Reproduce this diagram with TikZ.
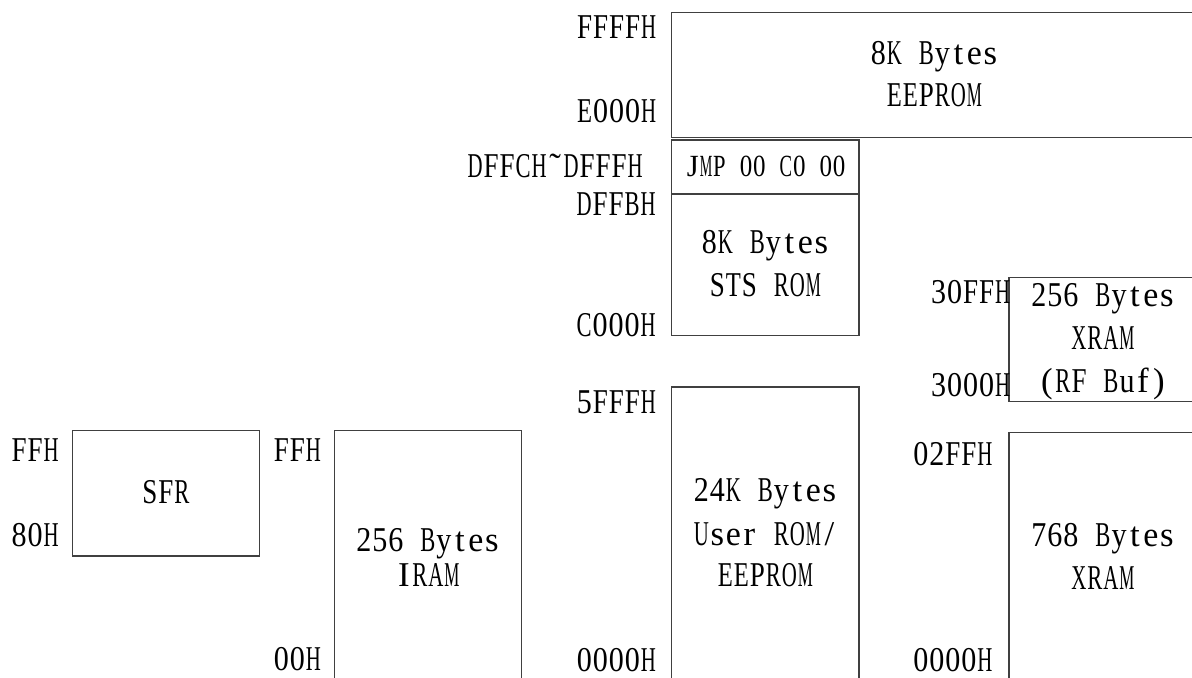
\documentclass[tikz,border=0pt]{standalone}
\usepackage{fontspec}
\setmainfont{Liberation Serif}
\ExplSyntaxOn
\box_new:N \l_mymt_box
\NewDocumentCommand\mt{O{8pt}m}{
  \str_map_inline:nn {#2} {
    \hbox_set:Nn \l_mymt_box {##1}
    \dim_compare:nNnT { \box_wd:N \l_mymt_box } > { #1 * 94 / 100 }
      {
        \box_scale:Nnn \l_mymt_box
          { \fp_eval:n { 0.94 * \dim_to_fp:n {#1} / \dim_to_fp:n { \box_wd:N \l_mymt_box } } } {1}
      }
    \hbox_to_wd:nn {#1} { \hfil \box_use_drop:N \l_mymt_box \hfil }
  }
}
\ExplSyntaxOff
\tikzset{
  membox/.style={draw=black!75, line width=0.75pt},
  lbl/.style={inner sep=0pt, anchor=base east, font=\fontsize{17.4}{20}\selectfont},
  txt/.style={inner sep=0pt, anchor=base, font=\fontsize{17.4}{20}\selectfont},
  smalltxt/.style={inner sep=0pt, anchor=base, font=\fontsize{15.4}{18}\selectfont},
}
\begin{document}
\begin{tikzpicture}[x=0.5pt,y=-0.5pt]
\useasboundingbox (0,0) rectangle (1192,678);
\clip (0,0) rectangle (1192,678);
% boxes
\draw[membox] (671.5,12.7) rectangle (1197.5,137.5);
\draw[membox] (671.5,140) rectangle (859,194);
\draw[membox] (671.5,194) rectangle (859,335.5);
\draw[membox] (1009,277.7) rectangle (1197,401.5);
\draw[membox] (1009,432.7) rectangle (1197,700);
\draw[membox] (671.5,387) rectangle (859,700);
\draw[membox] (72.3,430.7) rectangle (259.3,556);
\draw[membox] (334.3,430.7) rectangle (521.7,700);
% address labels
\node[lbl] (aFFFF) at (657,39) {\mt{FFFFH}};
\node[lbl] (aE000) at (657,123) {\mt{E000H}};
\node[lbl] (aDFFC) at (643.5,178) {\mt{DFFCH˜DFFFH}};
\node[lbl] (aDFFB) at (656.5,216) {\mt{DFFBH}};
\node[lbl] (aC000) at (656.5,336.7) {\mt{C000H}};
\node[lbl] (a5FFF) at (656.8,413) {\mt{5FFFH}};
\node[lbl] (a0000a) at (656.8,671) {\mt{0000H}};
\node[lbl] (aSFFF) at (59.5,461.7) {\mt{FFH}};
\node[lbl] (aS80) at (59.5,546) {\mt{80H}};
\node[lbl] (aIFF) at (321.7,461.7) {\mt{FFH}};
\node[lbl] (aI00) at (321.7,670) {\mt{00H}};
\node[lbl] (a02FF) at (993.3,465) {\mt{02FFH}};
\node[lbl] (a0000b) at (993.3,671) {\mt{0000H}};
\node[lbl] (a30FF) at (1011,303.3) {\mt{30FFH}};
\node[lbl] (a3000) at (1011,396.7) {\mt{3000H}};
% box texts
\node[txt] (eep1) at (934.5,65) {\mt{8K Bytes}};
\node[txt] (eep2) at (934.5,106.7) {\mt{EEPROM}};
\node[smalltxt] (jmp) at (766,177) {\mt[6.65pt]{JMP 00 C0 00}};
\node[txt] (sts1) at (765.5,254) {\mt{8K Bytes}};
\node[txt] (sts2) at (765.5,296.7) {\mt{STS ROM}};
\node[txt] (rf1) at (1103,306.7) {\mt{256 Bytes}};
\node[txt] (rf2) at (1103,349.3) {\mt{XRAM}};
\node[txt] (rf3) at (1103,392) {\mt{(RF Buf)}};
\node[txt] (usr1) at (765.5,501.7) {\mt{24K Bytes}};
\node[txt] (usr2) at (765.5,545) {\mt{User ROM/}};
\node[txt] (usr3) at (765.5,586.7) {\mt{EEPROM}};
\node[txt] (xr1) at (1103,546.7) {\mt{768 Bytes}};
\node[txt] (xr2) at (1103,589.3) {\mt{XRAM}};
\node[txt] (sfr) at (165.8,503.3) {\mt{SFR}};
\node[txt] (ir1) at (428,551.7) {\mt{256 Bytes}};
\node[txt] (ir2) at (428,586.7) {\mt{IRAM}};
\end{tikzpicture}
\end{document}
